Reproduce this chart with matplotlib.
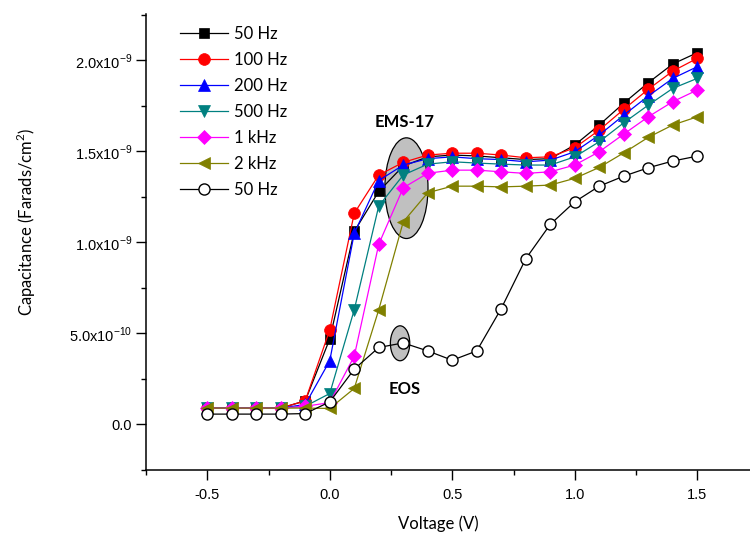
import matplotlib
matplotlib.use('Agg')
import matplotlib.pyplot as plt
import numpy as np
from matplotlib.patches import Ellipse
from matplotlib.ticker import MultipleLocator, FixedLocator, FixedFormatter

# voltage sweep (V)
volts = [-0.5, -0.4, -0.3, -0.2, -0.1, 0.0, 0.1, 0.2, 0.3, 0.4, 0.5,
         0.6, 0.7, 0.8, 0.9, 1.0, 1.1, 1.2, 1.3, 1.4, 1.5]

# capacitance, units of 1e-9 F/cm^2
c_50hz = [0.09, 0.09, 0.09, 0.09, 0.13, 0.47, 1.06, 1.28, 1.42, 1.47, 1.48,
          1.475, 1.465, 1.455, 1.46, 1.535, 1.645, 1.765, 1.877, 1.98, 2.042]
c_100hz = [0.09, 0.09, 0.09, 0.09, 0.13, 0.52, 1.16, 1.37, 1.44, 1.48, 1.49,
           1.49, 1.48, 1.465, 1.47, 1.52, 1.617, 1.731, 1.841, 1.941, 2.011]
c_200hz = [0.09, 0.09, 0.09, 0.09, 0.11, 0.35, 1.05, 1.34, 1.425, 1.46, 1.47,
           1.46, 1.455, 1.443, 1.452, 1.498, 1.59, 1.699, 1.804, 1.901, 1.965]
c_500hz = [0.09, 0.09, 0.09, 0.09, 0.10, 0.17, 0.63, 1.20, 1.37, 1.43, 1.443,
           1.436, 1.43, 1.425, 1.425, 1.47, 1.553, 1.657, 1.754, 1.846, 1.901]
c_1khz = [0.09, 0.09, 0.09, 0.09, 0.10, 0.12, 0.375, 0.99, 1.30, 1.38, 1.397,
          1.397, 1.388, 1.379, 1.388, 1.425, 1.498, 1.595, 1.69, 1.773, 1.837]
c_2khz = [0.09, 0.09, 0.09, 0.09, 0.09, 0.088, 0.198, 0.63, 1.113, 1.273, 1.309,
          1.309, 1.305, 1.309, 1.315, 1.352, 1.412, 1.492, 1.577, 1.645, 1.69]
c_eos = [0.057, 0.057, 0.057, 0.057, 0.06, 0.124, 0.304, 0.423, 0.448, 0.404, 0.353,
         0.404, 0.637, 0.91, 1.099, 1.223, 1.309, 1.364, 1.41, 1.447, 1.474]

labels = ['50 Hz', '100 Hz', '200 Hz', '500 Hz', '1 kHz', '2 kHz', '50 Hz']
colors = ['black', '#ff0000', '#0000ff', '#008080', '#ff00ff', '#808000', 'black']
markers = ['s', 'o', '^', 'v', 'D', '<', 'o']
sizes = [7.5, 8.5, 8.5, 8.5, 7, 8.5, 8]

ytick_vals = [0.0, 0.5, 1.0, 1.5, 2.0]
ytick_text = ['0.0', r'5.0x10$^{\mathregular{-10}}$', r'1.0x10$^{\mathregular{-9}}$',
              r'1.5x10$^{\mathregular{-9}}$', r'2.0x10$^{\mathregular{-9}}$']

W, H = 750, 535
fig = plt.figure(figsize=(7.5, 5.35), dpi=100)
ax = fig.add_axes([146 / W, 65 / H, 612.5 / W, 455.7 / H])

series = [c_50hz, c_100hz, c_200hz, c_500hz, c_1khz, c_2khz, c_eos]
for i, cs in enumerate(series):
    y = np.array(cs)
    fc = 'white' if i == 6 else colors[i]
    ax.plot(volts, y, color=colors[i], lw=0.9, marker=markers[i], ms=sizes[i],
            mfc=fc, mec=colors[i], mew=1.0 if i == 6 else 0.5,
            label=labels[i], zorder=3 + i)

# grey ellipses marking the two samples
ax.add_patch(Ellipse((0.313, 1.298), 0.176, 0.553, fc='#c0c0c0', ec='black', lw=0.9, zorder=2))
ax.add_patch(Ellipse((0.287, 0.446), 0.079, 0.192, fc='#c0c0c0', ec='black', lw=0.9, zorder=2))
ax.text(0.306, 1.661, 'EMS-17', ha='center', va='center', fontsize=12,
        fontweight='bold', family='Lato')
ax.text(0.306, 0.194, 'EOS', ha='center', va='center', fontsize=12,
        fontweight='bold', family='Lato')

ax.set_xlim(-0.75, 1.75)
ax.set_ylim(-0.25, 2.253)
ax.spines['top'].set_visible(False)
ax.spines['right'].set_visible(False)
ax.spines['left'].set_linewidth(1.1)
ax.spines['bottom'].set_linewidth(1.1)

ax.set_xticks([-0.5, 0.0, 0.5, 1.0, 1.5])
ax.set_xticklabels(['-0.5', '0.0', '0.5', '1.0', '1.5'])
ax.xaxis.set_minor_locator(MultipleLocator(0.25))
ax.yaxis.set_major_locator(FixedLocator(ytick_vals))
ax.yaxis.set_major_formatter(FixedFormatter(ytick_text))
ax.yaxis.set_minor_locator(MultipleLocator(0.25))
ax.tick_params(which='major', direction='out', length=7, width=1.0,
               labelsize=10.5, labelfontfamily='Liberation Sans')
ax.tick_params(which='minor', direction='out', length=3.8, width=1.0)
ax.tick_params(axis='x', which='major', pad=6)
ax.tick_params(axis='y', which='major', pad=3)

fig.text(438 / W, 1 - 524 / H, 'Voltage (V)', ha='center', va='center',
         fontsize=12, family='Lato')
fig.text(26 / W, 1 - 222 / H, r'Capacitance (Farads/cm$^{\mathregular{2}}$)',
         ha='center', va='center', rotation=90, fontsize=12, family='Lato')

leg = ax.legend(loc='upper left', bbox_to_anchor=(180 / W, 1 - 26 / H),
                bbox_transform=fig.transFigure, frameon=False,
                prop={'family': 'Lato', 'size': 12}, borderpad=0, borderaxespad=0,
                labelspacing=0.6, handlelength=2.9, handletextpad=0.35)

fig.savefig('out.png', dpi=100)
